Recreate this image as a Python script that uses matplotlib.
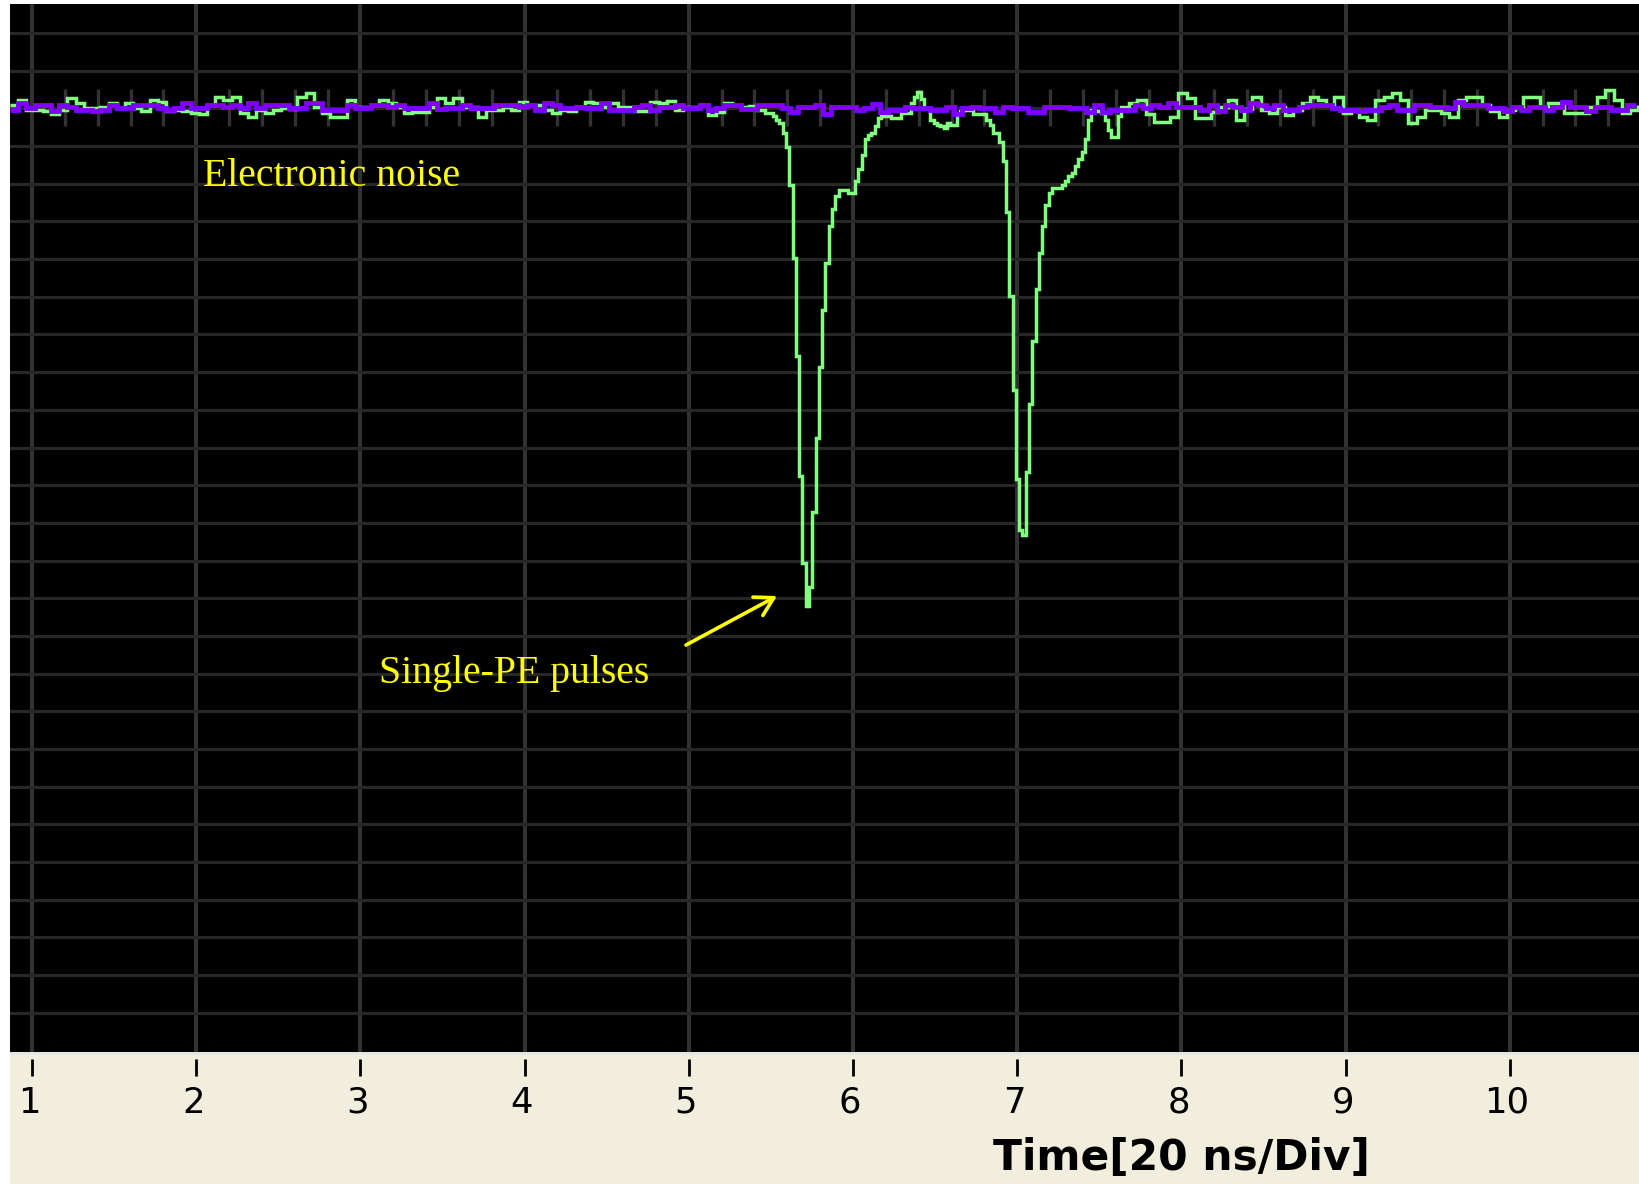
import numpy as np
import matplotlib
matplotlib.use("Agg")
import matplotlib.pyplot as plt

# ---- oscilloscope trace data (vertical unit = one screen division) ----
# time axis in divisions (20 ns/Div)
X_MIN, X_MAX = 0.866, 10.793
Y_MIN, Y_MAX = -25.04, 2.77

# channel A (green): baseline noise before the pulses, sampled every 0.05 div
green_start_a, green_step_a = 0.866, 0.05
green_noise_a = [
    0.10, 0.22, -0.04, -0.04, -0.06, -0.15, -0.04, 0.27, 0.13, 0.00,
    0.00, 0.05, 0.13, 0.00, 0.13, 0.00, -0.06, 0.22, 0.18, -0.06,
    -0.04, -0.08, -0.13, -0.15, 0.09, 0.31, 0.22, 0.31, -0.13, -0.22,
    -0.04, -0.13, -0.04, 0.00, -0.02, 0.31, 0.40, 0.05, -0.13, -0.22,
    -0.22, 0.22, 0.05, 0.05, 0.09, 0.22, 0.13, 0.04, -0.13, -0.10,
    -0.10, 0.05, 0.27, 0.13, 0.27, 0.04, 0.04, -0.22, -0.04, -0.04,
    0.04, -0.04, 0.18, 0.10, 0.10, -0.04, -0.13, -0.04, -0.06, 0.04,
    0.18, 0.13, 0.04, 0.13, 0.04, 0.04, -0.06, -0.06, 0.18, 0.13,
    0.20, -0.04, 0.04, 0.04, 0.09, -0.17, -0.10, 0.13, 0.08, 0.04,
    0.06, -0.03, -0.12,
]

# channel A: the two single-PE pulses, sampled every 0.02 div
green_start_p, green_step_p = 5.512, 0.02
green_pulses = [
    -0.21, -0.30, -0.39, -0.66, -1.03, -2.03, -3.98, -6.57, -9.75, -12.06,
    -13.20, -12.70, -10.70, -8.75, -6.87, -5.34, -4.09, -3.12, -2.66, -2.33,
    -2.16, -2.16, -2.16, -2.25, -2.25, -1.93, -1.62, -1.23, -0.80, -0.71,
    -0.66, -0.46, -0.25, -0.21, -0.21, -0.21, -0.25, -0.25, -0.25, -0.12,
    -0.12, -0.12, 0.15, 0.29, 0.43, 0.25, 0.02, 0.02, -0.30, -0.39,
    -0.44, -0.48, -0.53, -0.39, -0.44, -0.44, -0.16, -0.07, -0.03, -0.03,
    -0.03, -0.16, -0.16, -0.16, -0.16, -0.30, -0.44, -0.66, -0.66, -0.89,
    -1.39, -2.75, -4.98, -7.47, -9.84, -11.20, -11.33, -9.65, -7.84, -6.16,
    -4.80, -3.84, -3.12, -2.57, -2.25, -2.12, -2.12, -2.12, -2.03, -1.93,
    -1.80, -1.71, -1.53, -1.34, -1.16, -0.80, -0.30, -0.03, -0.07, -0.07,
    -0.12, -0.30, -0.57, -0.75, -0.75, -0.21,
]

# channel A: baseline noise after the pulses, sampled every 0.05 div
green_start_b, green_step_b = 7.632, 0.05
green_noise_b = [
    0.04, 0.13, 0.22, -0.15, -0.35, -0.35, -0.22, 0.40, 0.27, -0.26,
    -0.26, -0.10, 0.04, 0.22, -0.31, -0.02, 0.30, -0.04, -0.13, 0.05,
    -0.18, -0.04, 0.13, 0.31, 0.22, 0.09, 0.31, -0.13, -0.04, -0.22,
    -0.31, 0.22, 0.31, 0.40, 0.22, -0.40, -0.22, -0.04, -0.04, -0.13,
    -0.22, 0.22, 0.31, 0.31, 0.09, -0.08, -0.22, -0.04, 0.00, 0.31,
    0.31, 0.05, 0.13, 0.13, -0.13, -0.13, -0.13, 0.05, 0.31, 0.49,
    0.22, -0.13, -0.04, 0.09,
]

# channel B (violet): electronic noise only, sampled every 0.05 div
purple_start, purple_step = 0.866, 0.05
purple_noise = [
    -0.04, 0.13, 0.00, 0.09, 0.09, -0.06, 0.09, 0.05, -0.04, -0.04,
    -0.08, -0.04, 0.09, 0.00, 0.00, 0.09, 0.09, 0.09, 0.00, -0.04,
    0.00, 0.13, 0.00, 0.00, 0.09, 0.09, 0.05, 0.09, 0.00, 0.13,
    0.00, 0.09, 0.09, 0.09, 0.00, 0.00, 0.13, 0.13, -0.04, -0.04,
    -0.04, 0.09, 0.00, 0.00, 0.09, 0.09,
    0.05, 0.09, 0.00, 0.00, 0.00, 0.13, -0.02, 0.00, 0.00, 0.09,
    0.00, 0.00, 0.00, 0.09, 0.09, 0.09, 0.05, 0.09, -0.04, 0.13,
    0.09, 0.00, 0.00, 0.05, 0.00, 0.00, 0.13, -0.04, -0.04, -0.04,
    0.05, 0.09, -0.04, 0.05, 0.05, 0.09, 0.00, 0.00, 0.09, -0.04,
    0.00, 0.09, 0.09, -0.02, -0.02,
    0.10, 0.10, 0.10, 0.00, -0.10, 0.05, 0.05, 0.10, -0.15, 0.05,
    0.05, 0.05, -0.05, 0.00, 0.12, -0.10, -0.04, -0.04, 0.05, 0.00,
    0.00, -0.05, -0.05, 0.05, -0.15, 0.00, 0.05, 0.00, 0.00, -0.10,
    0.05, 0.00, 0.00, -0.10, -0.10, 0.05, 0.05, 0.05, 0.00, 0.00,
    -0.10, 0.10, -0.10,
    -0.04, -0.04, -0.04, 0.09, 0.00, 0.09, 0.05, 0.13, 0.05, 0.05,
    0.05, -0.04, 0.09, -0.08, 0.09, 0.05, -0.04,
    0.13, 0.09, 0.00, 0.09, -0.04, -0.04, 0.05, 0.09, 0.09, 0.09,
    0.00, -0.04, -0.04, -0.08, -0.04, -0.04, 0.05, 0.09, -0.04, -0.04,
    0.09, 0.09, 0.05, 0.05, 0.00, 0.18, 0.09, 0.09, 0.09, 0.00,
    0.00, -0.06, 0.05, -0.04, 0.05, 0.05, -0.04, 0.05, 0.18, 0.05,
    0.05, -0.08, 0.05, 0.05, -0.04, -0.04, 0.09, 0.09,
]

x_ticks = [1, 2, 3, 4, 5, 6, 7, 8, 9, 10]
x_tick_labels = ["1", "2", "3", "4", "5", "6", "7", "8", "9", "10"]
y_grid = list(range(-24, 3))
x_label = "Time[20 ns/Div]"


def sample_times(start, step, n):
    return start + step * np.arange(n)


t_green = np.concatenate([
    sample_times(green_start_a, green_step_a, len(green_noise_a)),
    sample_times(green_start_p, green_step_p, len(green_pulses)),
    sample_times(green_start_b, green_step_b, len(green_noise_b)),
])
v_green = np.array(green_noise_a + green_pulses + green_noise_b)
t_purple = sample_times(purple_start, purple_step, len(purple_noise))
v_purple = np.array(purple_noise)

# ---- figure ----
W, H = 1640, 1184
fig = plt.figure(figsize=(W / 100, H / 100), dpi=100, facecolor="white")

# scope screen
ax = fig.add_axes([10 / W, (H - 1052) / H, 1630 / W, 1048 / H])
ax.set_facecolor("black")
ax.set_xlim(X_MIN, X_MAX)
ax.set_ylim(Y_MIN, Y_MAX)
for s in ax.spines.values():
    s.set_visible(False)
ax.set_xticks(x_ticks)
ax.set_yticks(y_grid)
ax.tick_params(length=0, labelbottom=False, labelleft=False)
ax.xaxis.grid(True, color="#323232", lw=2.9)
ax.yaxis.grid(True, color="#272727", lw=2.3)
ax.set_axisbelow(True)

# small graduation marks along the centre line
minor = [x for x in np.arange(1.2, X_MAX, 0.2) if abs(x - round(x)) > 1e-6]
ax.vlines(minor, -0.48, 0.51, color="#323232", lw=2.4, zorder=1)

ax.plot(t_green, v_green, drawstyle="steps-post", color="#80FF80", lw=2.5,
        solid_joinstyle="miter", solid_capstyle="butt", zorder=3)
ax.plot(t_purple, v_purple, drawstyle="steps-post", color="#8000FF", lw=3.5,
        solid_joinstyle="miter", solid_capstyle="butt", zorder=4)

ax.text(2.041, -2.06, "Electronic noise", color="#FFFF00", fontsize=28.6,
        family="Liberation Serif", ha="left", va="baseline", zorder=5)
ax.text(3.113, -15.24, "Single-PE pulses", color="#FFFF00", fontsize=28.6,
        family="Liberation Serif", ha="left", va="baseline", zorder=5)
ax.annotate("", xy=(5.537, -12.94), xytext=(4.983, -14.24),
            arrowprops=dict(arrowstyle="->,head_length=1.3,head_width=0.75",
                            color="#FFFF00", lw=2.6, shrinkA=0, shrinkB=0,
                            mutation_scale=10),
            zorder=5)

# time-axis strip
bx = fig.add_axes([10 / W, 0, 1630 / W, 132 / H])
bx.set_facecolor("#F2EEDD")
bx.set_xlim(X_MIN, X_MAX)
bx.set_ylim(0, 1)
for s in bx.spines.values():
    s.set_visible(False)
bx.set_xticks([])
bx.set_yticks([])
bx.axhspan(0.975, 1.0, color="#E6E6E6", lw=0)
bx.vlines(x_ticks, 0.818, 0.947, color="black", lw=2.0)
for x, lab in zip(x_ticks, x_tick_labels):
    bx.text(x - 0.018, 0.538, lab, ha="center", va="baseline", fontsize=25.5,
            family="DejaVu Sans", color="black")
bx.text(8.0, 0.106, x_label, ha="center", va="baseline", fontsize=30.5,
        fontweight="bold", family="DejaVu Sans", color="black")

fig.savefig("out.png", dpi=100, facecolor="white")
